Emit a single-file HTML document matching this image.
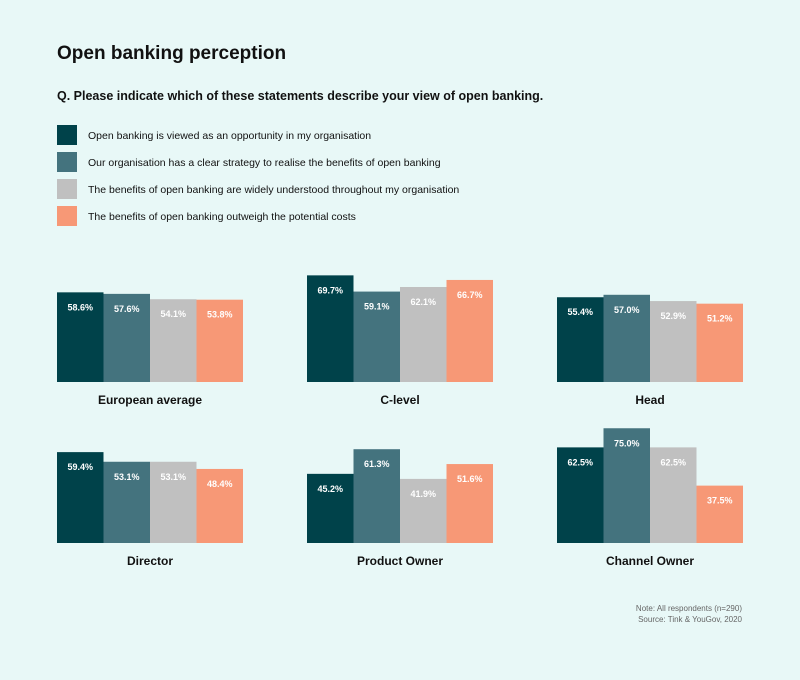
<!DOCTYPE html>
<html><head><meta charset="utf-8"><style>
body{margin:0;background:#e8f8f7;font-family:"Liberation Sans",sans-serif;}
#wrap{position:relative;width:800px;height:680px;background:#e8f8f7;overflow:hidden}
.t{position:absolute;color:#111;white-space:nowrap}
</style></head><body>
<div id="wrap">
<div class="t" style="left:57px;top:43px;font-size:19px;font-weight:600">Open banking perception</div>
<div class="t" style="left:57px;top:89px;font-size:12.5px;font-weight:600">Q. Please indicate which of these statements describe your view of open banking.</div>
<svg id="svg" width="800" height="680" style="position:absolute;left:0;top:0"></svg>
<div class="t" style="right:58px;top:603px;font-size:8px;color:#666;text-align:right;line-height:11px">Note: All respondents (n=290)<br>Source: Tink &amp; YouGov, 2020</div>
</div>
<script>
const seriesNames=["Open banking is viewed as an opportunity in my organisation","Our organisation has a clear strategy to realise the benefits of open banking","The benefits of open banking are widely understood throughout my organisation","The benefits of open banking outweigh the potential costs"];
const groups=["European average","C-level","Head","Director","Product Owner","Channel Owner"];
const s1=[58.6,69.7,55.4,59.4,45.2,62.5];
const s2=[57.6,59.1,57.0,53.1,61.3,75.0];
const s3=[54.1,62.1,52.9,53.1,41.9,62.5];
const s4=[53.8,66.7,51.2,48.4,51.6,37.5];
const colors=["#00424a","#44737e","#c0c0c0","#f79876"];
const series=[s1,s2,s3,s4];
const svg=document.getElementById('svg');
const NS="http://www.w3.org/2000/svg";
function mk(tag,attrs){const e=document.createElementNS(NS,tag);for(const k in attrs)e.setAttribute(k,attrs[k]);svg.appendChild(e);return e;}
// legend
seriesNames.forEach((n,i)=>{
  const r=mk('rect',{x:57,y:125+i*27,width:20,height:20,fill:colors[i]});
  
  
  const t=mk('text',{x:88,y:139+i*27,'font-size':10.5,fill:'#111','font-family':'Liberation Sans, sans-serif'});
  t.textContent=n;
  
  
});
const scale=1.53, barW=46.5;
function yOf(base,v){return base-v*scale;}
groups.forEach((g,gi)=>{
  const px=57+(gi%3)*250, base=gi<3?382:543;
  series.forEach((s,si)=>{
    const v=s[gi], x=px+si*barW, y=yOf(base,v);
    const r=mk('rect',{x:x,y:y,width:barW,height:base-y,fill:colors[si]});
    
    
    const t=mk('text',{x:x+barW/2,y:y+18,'font-size':9,'font-weight':'bold',fill:'#fff','text-anchor':'middle','font-family':'Liberation Sans, sans-serif'});
    t.textContent=v.toFixed(1)+'%';
    
    
  });
  const l=mk('text',{x:px+barW*2,y:base+22,'font-size':12,'font-weight':'600',fill:'#111','text-anchor':'middle','font-family':'Liberation Sans, sans-serif'});
  l.textContent=g;
  
  
});
</script>
</body></html>
